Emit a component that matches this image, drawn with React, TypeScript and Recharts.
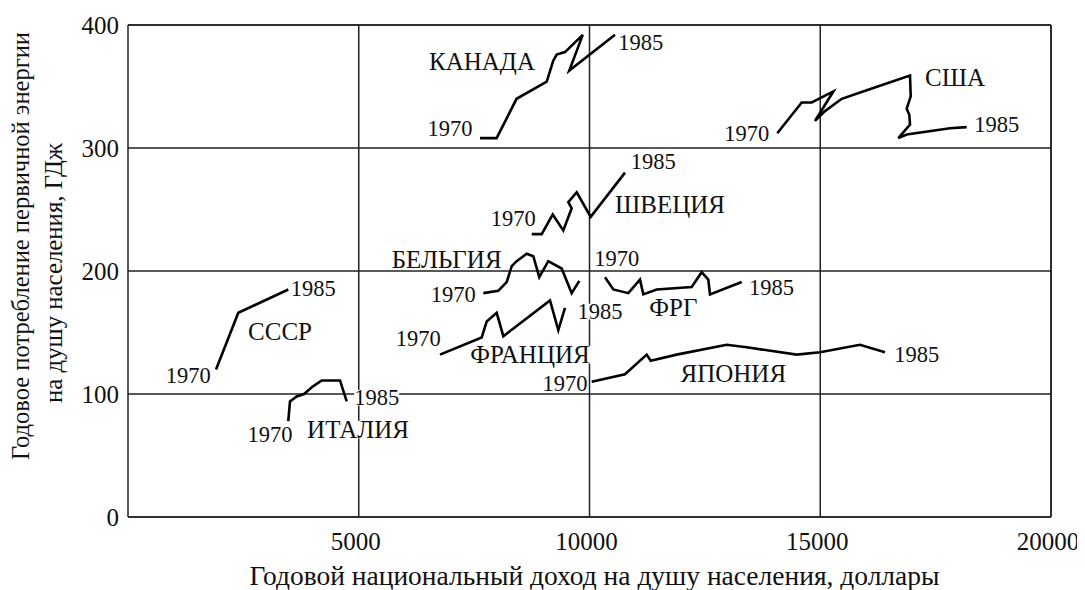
import React from 'react';
import { LineChart, Line, XAxis, YAxis, CartesianGrid, ReferenceDot, ReferenceLine } from 'recharts';

const FONT = '"Liberation Serif", "DejaVu Serif", "Times New Roman", serif';
const INK = '#111';

const xTicks = [5000, 10000, 15000, 20000];
const yTicks = [0, 100, 200, 300, 400];

const xTitle = 'Годовой национальный доход на душу населения, доллары';
const yTitle1 = 'Годовое потребление первичной энергии';
const yTitle2 = 'на душу населения, ГДж';

const canadaIncome = [7627, 7987, 8420, 9073, 9215, 9289, 9469, 9853, 9562, 10553];
const canadaEnergy = [308, 308, 340, 354, 371, 376, 378, 392, 363, 392];

const usaIncome = [14069, 14598, 14815, 15283, 14886, 15103, 15465, 16006, 16945, 16960, 16873, 16930, 16945, 16691, 16873, 17811, 18173];
const usaEnergy = [312, 337, 337, 346, 322, 330, 340, 347, 359, 342, 332, 327, 319, 308, 311, 316, 317];

const swedenIncome = [8748, 8964, 9203, 9432, 9614, 9541, 9723, 10026, 10769];
const swedenEnergy = [230, 230, 246, 233, 251, 256, 264, 244, 280];

const belgiumIncome = [7699, 8024, 8206, 8314, 8422, 8639, 8782, 8912, 9107, 9397, 9614, 9779];
const belgiumEnergy = [182, 184, 191, 204, 208, 214, 212, 195, 208, 202, 182, 192];

const franceIncome = [6760, 7664, 7773, 7989, 8133, 9144, 9324, 9469];
const franceEnergy = [132, 146, 159, 166, 147, 176, 152, 170];

const frgIncome = [10336, 10516, 10841, 11094, 11166, 11456, 12214, 12431, 12574, 12611, 13298];
const frgEnergy = [195, 185, 182, 193, 181, 185, 187, 199, 193, 181, 191];

const japanIncome = [10048, 10769, 11239, 11326, 11889, 12972, 13406, 14490, 14995, 15861, 16403];
const japanEnergy = [110, 116, 132, 127, 132, 140, 138, 132, 134, 140, 134];

const ussrIncome = [1907, 2390, 3473];
const ussrEnergy = [120, 166, 185];

const italyIncome = [3473, 3510, 3655, 3814, 4002, 4197, 4594, 4739];
const italyEnergy = [78, 94, 98, 100, 106, 111, 111, 94];

// annotation texts and their anchor points (data units)
const labelTexts = [
  'КАНАДА', '1970', '1985',
  'США', '1970', '1985',
  'ШВЕЦИЯ', '1970', '1985',
  'БЕЛЬГИЯ', '1970',
  'ФРАНЦИЯ', '1970', '1985',
  'ФРГ', '1970', '1985',
  'ЯПОНИЯ', '1970', '1985',
  'СССР', '1970', '1985',
  'ИТАЛИЯ', '1970', '1985',
];
const labelIncome = [
  7671, 6977, 11108,
  17920, 13406, 18823,
  11744, 8349, 11383,
  6905, 7049,
  8711, 6291, 10227,
  11816, 10589, 13946,
  13116, 9469, 17089,
  3294, 1307, 4015,
  4984, 3077, 5389,
];
const labelEnergy = [
  370, 316, 386,
  357, 312, 319,
  254, 243, 289,
  209, 181,
  132, 145, 167,
  170, 210, 187,
  117, 109, 132,
  151, 115, 186,
  71, 67, 97,
];

const zip = (xs: number[], ys: number[]) => xs.map((x, i) => ({ x, y: ys[i] }));

const series = [
  { name: 'Канада', data: zip(canadaIncome, canadaEnergy) },
  { name: 'США', data: zip(usaIncome, usaEnergy) },
  { name: 'Швеция', data: zip(swedenIncome, swedenEnergy) },
  { name: 'Бельгия', data: zip(belgiumIncome, belgiumEnergy) },
  { name: 'Франция', data: zip(franceIncome, franceEnergy) },
  { name: 'ФРГ', data: zip(frgIncome, frgEnergy) },
  { name: 'Япония', data: zip(japanIncome, japanEnergy) },
  { name: 'СССР', data: zip(ussrIncome, ussrEnergy) },
  { name: 'Италия', data: zip(italyIncome, italyEnergy) },
];

const YEAR_SIZE = 22.5;
const NAME_SIZE = 25;
const TICK_SIZE = 25;

const LabelShape = (props: any) => {
  const { cx, cy, text } = props;
  if (cx == null || cy == null) return null;
  const isYear = /^\d+$/.test(text);
  const size = isYear ? YEAR_SIZE : NAME_SIZE;
  const w = text.length * size * (isYear ? 0.5 : 0.72);
  const h = size * 0.7;
  return (
    <g>
      <rect x={cx - w / 2} y={cy - h / 2} width={w} height={h} fill="#fff" />
      <text x={cx} y={cy} dy="0.34em" textAnchor="middle" fontSize={size} fontFamily={FONT} fill={INK}>
        {text}
      </text>
    </g>
  );
};

const XTitle = (props: any) => {
  const vb = props.viewBox || { x: 120, y: 509, width: 923, height: 73 };
  return (
    <text
      x={vb.x + vb.width / 2 + 5}
      y={vb.y + 68}
      textAnchor="middle"
      fontSize={27}
      textLength={690}
      lengthAdjust="spacingAndGlyphs"
      fontFamily={FONT}
      fill={INK}
    >
      {xTitle}
    </text>
  );
};

const YTitle = (props: any) => {
  const vb = props.viewBox || { x: 0, y: 17, width: 120, height: 492 };
  const mid = vb.y + vb.height / 2;
  const c1 = mid - 25;
  const c2 = mid + 2;
  const x1 = vb.x + 21;
  const x2 = vb.x + 54;
  return (
    <g>
      <text
        x={x1}
        y={c1}
        transform={`rotate(-90, ${x1}, ${c1})`}
        textAnchor="middle"
        fontSize={25}
        textLength={428}
        lengthAdjust="spacingAndGlyphs"
        fontFamily={FONT}
        fill={INK}
      >
        {yTitle1}
      </text>
      <text
        x={x2}
        y={c2}
        transform={`rotate(-90, ${x2}, ${c2})`}
        textAnchor="middle"
        fontSize={25}
        textLength={260}
        lengthAdjust="spacingAndGlyphs"
        fontFamily={FONT}
        fill={INK}
      >
        {yTitle2}
      </text>
    </g>
  );
};

export default function App() {
  return (
    <div style={{ width: 1077, height: 582, background: '#fff' }}>
      <LineChart width={1077} height={582} margin={{ top: 17, right: 34, left: 0, bottom: 0 }}>
        <CartesianGrid stroke="#222" strokeWidth={1.5} horizontalValues={yTicks} verticalValues={xTicks} />
        <XAxis
          dataKey="x"
          type="number"
          domain={[0, 20000]}
          ticks={xTicks}
          allowDataOverflow
          height={73}
          axisLine={{ stroke: '#222', strokeWidth: 1.5 }}
          tickLine={false}
          tickSize={0}
          tickMargin={15}
          tick={{ fontSize: TICK_SIZE, fontFamily: FONT, fill: INK, dx: -3 }}
          label={<XTitle />}
        />
        <YAxis
          dataKey="y"
          type="number"
          domain={[0, 400]}
          ticks={yTicks}
          allowDataOverflow
          width={120}
          axisLine={{ stroke: '#222', strokeWidth: 1.5 }}
          tickLine={false}
          tickSize={0}
          tickMargin={9}
          tick={{ fontSize: TICK_SIZE, fontFamily: FONT, fill: INK }}
          label={<YTitle />}
        />
        <ReferenceLine x={20000} stroke="#222" strokeWidth={1.5} ifOverflow="extendDomain" />
        <ReferenceLine y={400} stroke="#222" strokeWidth={1.5} ifOverflow="extendDomain" />
        {labelTexts.map((t, i) => (
          <ReferenceDot
            key={`lbl-${i}`}
            x={labelIncome[i]}
            y={labelEnergy[i]}
            r={0}
            shape={(p: any) => <LabelShape cx={p.cx} cy={p.cy} text={t} />}
          />
        ))}
        {series.map((s) => (
          <Line
            key={s.name}
            data={s.data}
            dataKey="y"
            name={s.name}
            type="linear"
            stroke="#000"
            strokeWidth={2.6}
            dot={false}
            activeDot={false}
            isAnimationActive={false}
            strokeLinejoin="miter"
          />
        ))}
      </LineChart>
    </div>
  );
}
